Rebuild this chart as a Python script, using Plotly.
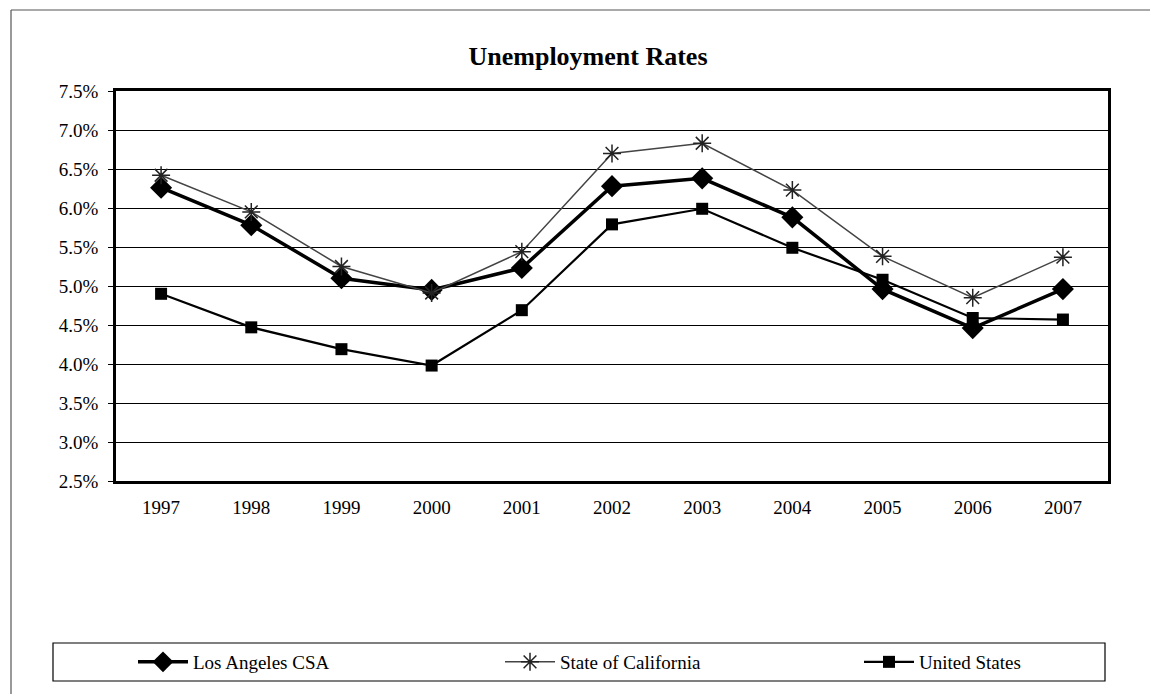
import plotly.graph_objects as go

years = ["1997", "1998", "1999", "2000", "2001", "2002", "2003", "2004", "2005", "2006", "2007"]
la_csa = [6.26, 5.78, 5.10, 4.95, 5.23, 6.28, 6.38, 5.88, 4.96, 4.46, 4.96]
california = [6.42, 5.95, 5.25, 4.91, 5.44, 6.70, 6.83, 6.23, 5.38, 4.85, 5.37]
united_states = [4.90, 4.47, 4.19, 3.98, 4.69, 5.79, 5.99, 5.49, 5.08, 4.59, 4.57]
y_ticks = [2.5, 3.0, 3.5, 4.0, 4.5, 5.0, 5.5, 6.0, 6.5, 7.0, 7.5]

FONT = "Liberation Serif, Times New Roman, serif"

W, H = 1153, 694
L, R, T, B = 116, 45, 91, 213
pw, ph = W - L - R, H - T - B

def px(x):
    return (x - L) / pw

def py(y):
    return (H - B - y) / ph

fig = go.Figure()
fig.add_trace(go.Scatter(
    x=years, y=la_csa, name="Los Angeles CSA", mode="lines+markers",
    line=dict(color="black", width=3.5),
    marker=dict(symbol="diamond", size=17, color="black"),
    legend="legend",
))
fig.add_trace(go.Scatter(
    x=years, y=california, name="State of California", mode="lines+markers",
    line=dict(color="#444444", width=1.5),
    marker=dict(symbol="asterisk-open", size=15, color="#222222",
                line=dict(color="#222222", width=1.5)),
    legend="legend2",
))
fig.add_trace(go.Scatter(
    x=years, y=united_states, name="United States", mode="lines+markers",
    line=dict(color="black", width=2.2),
    marker=dict(symbol="square", size=12, color="black"),
    legend="legend3",
))

shapes = [
    # outer chart border (top and left edges)
    dict(type="line", xref="paper", yref="paper", x0=px(11), x1=px(1150), y0=py(10), y1=py(10),
         line=dict(color="#555555", width=1.2)),
    dict(type="line", xref="paper", yref="paper", x0=px(11), x1=px(11), y0=py(10), y1=py(694),
         line=dict(color="#555555", width=1.2)),
    # legend box
    dict(type="rect", xref="paper", yref="paper", x0=px(53), x1=px(1105), y0=py(643), y1=py(681),
         line=dict(color="black", width=1.2), fillcolor="rgba(0,0,0,0)"),
]

def leg(xpix):
    return dict(orientation="h", x=px(xpix), xanchor="left", y=py(662), yanchor="middle",
                itemwidth=50, font=dict(family=FONT, size=19, color="black"),
                bgcolor="rgba(0,0,0,0)", borderwidth=0)

fig.update_layout(
    width=W, height=H,
    margin=dict(l=L, r=R, t=T, b=B, autoexpand=False),
    paper_bgcolor="white", plot_bgcolor="white",
    font=dict(family=FONT, size=19, color="black"),
    title=dict(text="<b>Unemployment Rates</b>", font=dict(family=FONT, size=26, color="black"),
               x=px(588), xref="paper", xanchor="center",
               y=1 - 56 / H, yref="container", yanchor="middle"),
    showlegend=True,
    legend=leg(133),
    legend2=leg(500),
    legend3=leg(859),
    shapes=shapes,
)

fig.update_xaxes(
    type="category", range=[-0.5, 10.5],
    showline=True, linecolor="black", linewidth=2.5, mirror=True,
    showgrid=False, ticks="", ticklabelstandoff=7,
    tickfont=dict(family=FONT, size=19, color="black"),
)
fig.update_yaxes(
    range=[2.5, 7.5], tickvals=y_ticks, ticktext=[f"{v:.1f}%" for v in y_ticks],
    showline=True, linecolor="black", linewidth=2.5, mirror=True,
    showgrid=True, gridcolor="black", gridwidth=1,
    ticks="outside", ticklen=5, tickcolor="black", ticklabelstandoff=6,
    tickfont=dict(family=FONT, size=19, color="black"),
    zeroline=False,
)

fig.write_html("out.html")
